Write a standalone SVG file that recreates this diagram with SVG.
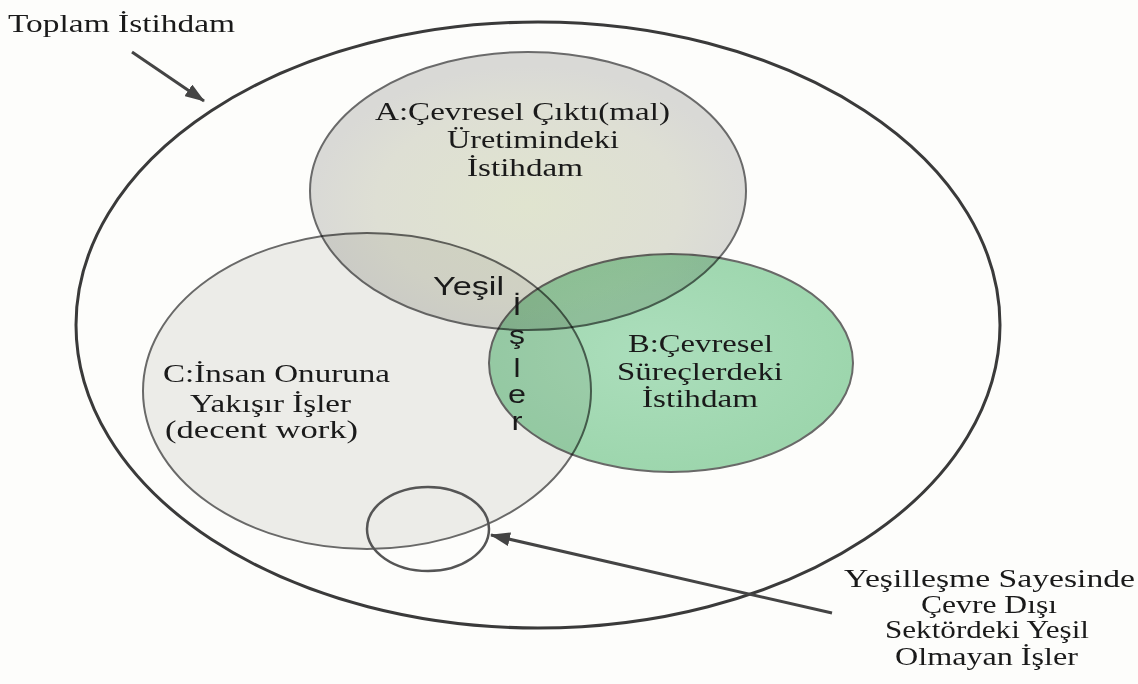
<svg xmlns="http://www.w3.org/2000/svg" width="1138" height="684" viewBox="0 0 1138 684">
  <style>
    .serif { font-family: "Liberation Serif", "Times New Roman", serif; font-size: 25px; fill: #1a1a1a; }
    .sans { font-family: "Liberation Sans", Arial, sans-serif; font-size: 25px; fill: #1a1a1a; }
    .set { stroke: #6a6a6a; stroke-width: 2; }
    .outer { fill: none; stroke: #3a3a3a; stroke-width: 3; }
    .arrow { fill: none; stroke: #444; stroke-width: 3; }
    .mult { mix-blend-mode: multiply; }
  </style>
  <defs>
    <radialGradient id="gA" cx="0.5" cy="0.55" r="0.5">
      <stop offset="0" stop-color="#e0e4cf"/>
      <stop offset="0.7" stop-color="#dedfd4"/>
      <stop offset="1" stop-color="#d9d9d6"/>
    </radialGradient>
    <radialGradient id="gB" cx="0.45" cy="0.45" r="0.55">
      <stop offset="0" stop-color="#ade0bf"/>
      <stop offset="1" stop-color="#9ed8b0"/>
    </radialGradient>
    <marker id="head" viewBox="0 0 20 14" refX="19" refY="7" markerWidth="20" markerHeight="14" markerUnits="userSpaceOnUse" orient="auto">
      <path d="M0,0 L20,7 L0,14 z" fill="#444"/>
    </marker>
  </defs>

  <rect x="0" y="0" width="1138" height="684" fill="#fdfdfb"/>

  <g id="total">
    <ellipse class="outer" cx="538" cy="325" rx="462" ry="303"/>
    <text class="serif" x="8" y="32" textLength="227" lengthAdjust="spacingAndGlyphs">Toplam İstihdam</text>
  </g>

  <g id="setA">
    <ellipse class="set" cx="528" cy="191" rx="218" ry="139" fill="url(#gA)"/>
  </g>
  <g id="setC">
    <ellipse class="set mult" cx="367" cy="391" rx="224" ry="158" fill="#eeeeec"/>
  </g>
  <g id="setB">
    <ellipse class="set mult" cx="671" cy="363" rx="182" ry="109" fill="url(#gB)"/>
  </g>
  <g id="nonGreen">
    <ellipse cx="428" cy="529" rx="61" ry="42" fill="none" stroke="#555" stroke-width="2.5"/>
  </g>

  <g id="labelA">
    <text class="serif" x="375" y="120" textLength="295" lengthAdjust="spacingAndGlyphs">A:Çevresel Çıktı(mal)</text>
    <text class="serif" x="447" y="148" textLength="172" lengthAdjust="spacingAndGlyphs">Üretimindeki</text>
    <text class="serif" x="467" y="176" textLength="116" lengthAdjust="spacingAndGlyphs">İstihdam</text>
  </g>
  <g id="labelB">
    <text class="serif" x="628" y="352" textLength="145" lengthAdjust="spacingAndGlyphs">B:Çevresel</text>
    <text class="serif" x="617" y="380" textLength="166" lengthAdjust="spacingAndGlyphs">Süreçlerdeki</text>
    <text class="serif" x="642" y="407" textLength="116" lengthAdjust="spacingAndGlyphs">İstihdam</text>
  </g>
  <g id="labelC">
    <text class="serif" x="163" y="382" textLength="227" lengthAdjust="spacingAndGlyphs">C:İnsan Onuruna</text>
    <text class="serif" x="190" y="412" textLength="161" lengthAdjust="spacingAndGlyphs">Yakışır İşler</text>
    <text class="serif" x="165" y="438" textLength="193" lengthAdjust="spacingAndGlyphs">(decent work)</text>
  </g>
  <g id="greenJobs">
    <text class="sans" x="433" y="295" textLength="71" lengthAdjust="spacingAndGlyphs">Yeşil</text>
    <text class="sans" x="517" y="315" text-anchor="middle" textLength="9" lengthAdjust="spacingAndGlyphs">İ</text>
    <text class="sans" x="517" y="344" text-anchor="middle" textLength="16" lengthAdjust="spacingAndGlyphs">ş</text>
    <text class="sans" x="517" y="377" text-anchor="middle" textLength="7" lengthAdjust="spacingAndGlyphs">l</text>
    <text class="sans" x="517" y="403" text-anchor="middle" textLength="18" lengthAdjust="spacingAndGlyphs">e</text>
    <text class="sans" x="517" y="430" text-anchor="middle" textLength="11" lengthAdjust="spacingAndGlyphs">r</text>
  </g>
  <g id="labelNonGreen">
    <text class="serif" x="844" y="587" textLength="291" lengthAdjust="spacingAndGlyphs">Yeşilleşme Sayesinde</text>
    <text class="serif" x="921" y="613" textLength="136" lengthAdjust="spacingAndGlyphs">Çevre Dışı</text>
    <text class="serif" x="885" y="638" textLength="204" lengthAdjust="spacingAndGlyphs">Sektördeki Yeşil</text>
    <text class="serif" x="895" y="665" textLength="183" lengthAdjust="spacingAndGlyphs">Olmayan İşler</text>
  </g>

  <g id="connectors">
    <line class="arrow" x1="132" y1="52" x2="204" y2="101" marker-end="url(#head)"/>
    <line class="arrow" x1="832" y1="613" x2="491" y2="535" marker-end="url(#head)"/>
  </g>
</svg>
